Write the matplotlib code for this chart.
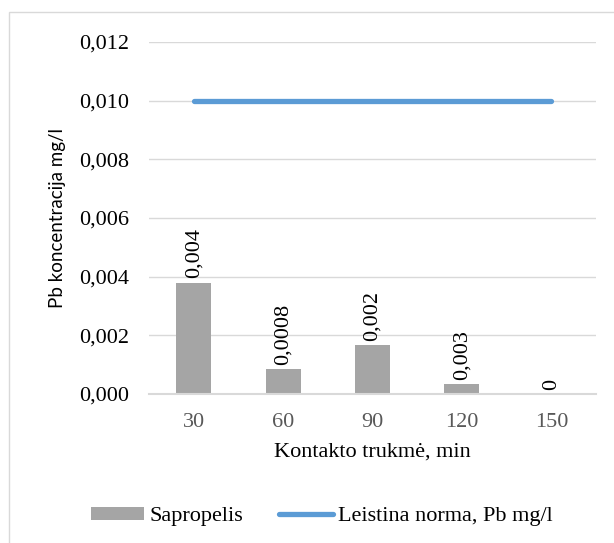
import numpy as np
import matplotlib
matplotlib.use('Agg')
import matplotlib.pyplot as plt
from matplotlib.patches import Rectangle
from matplotlib.ticker import FuncFormatter

# data
minutes = ['30', '60', '90', '120', '150']
sapropelis = [0.0038, 0.00085, 0.00166, 0.00034, 0.0]
bar_labels = ['0,004', '0,0008', '0,002', '0,003', '0']
norma = [0.010, 0.010, 0.010, 0.010, 0.010]

serif = 'Liberation Serif'
bar_color = '#A5A5A5'
line_color = '#5B9BD5'

fig = plt.figure(figsize=(6.14, 5.43), dpi=100)
# light frame round the chart, open at right and bottom like the reference crop
fig.patches.append(Rectangle((9 / 614, -0.1), 1.2, 1.1 - 12 / 543,
                             transform=fig.transFigure, fill=False,
                             edgecolor='#D9D9D9', linewidth=1))
ax = fig.add_axes([149 / 614, 1 - 394 / 543, 447 / 614, 352 / 543])

x = np.arange(len(minutes))
bars = ax.bar(x, sapropelis, width=0.39, color=bar_color, label='Sapropelis', zorder=2)
line, = ax.plot(x, norma, color=line_color, linewidth=3.8, solid_capstyle='round',
                label='Leistina norma, Pb mg/l', zorder=3)

# rotated value labels above the bars
for i, b in enumerate(bars):
    ax.annotate(bar_labels[i], (b.get_x() + b.get_width() / 2, b.get_height()),
                textcoords='offset points', xytext=(0, 3), ha='center', va='bottom',
                rotation=90, fontsize=16, family=serif, color='#000000')

ax.set_xlim(-0.5, len(minutes) - 0.5)
ax.set_ylim(0, 0.012)
ax.set_yticks(np.arange(0, 0.0121, 0.002))
ax.yaxis.set_major_formatter(FuncFormatter(lambda v, p: f'{v:.3f}'.replace('.', ',')))
ax.set_xticks(x)
ax.set_xticklabels(minutes)
ax.grid(axis='y', color='#D9D9D9', linewidth=1, zorder=0)
for s in ['top', 'right', 'left']:
    ax.spines[s].set_visible(False)
ax.spines['bottom'].set_color('#D9D9D9')
ax.spines['bottom'].set_linewidth(1.5)
ax.tick_params(length=0)
ax.tick_params(axis='y', pad=14)
ax.tick_params(axis='x', pad=14)
for lab in ax.get_yticklabels():
    lab.set_family(serif)
    lab.set_fontsize(16)
    lab.set_color('#000000')
for lab in ax.get_xticklabels():
    lab.set_family(serif)
    lab.set_fontsize(16)
    lab.set_color('#595959')

ax.set_xlabel('Kontakto trukmė, min', family=serif, fontsize=16, labelpad=7)
ax.set_ylabel('Pb koncentracija mg/l', family='Lato', fontsize=13.5, labelpad=10)

ax.legend(handles=[bars, line], loc='center', bbox_to_anchor=(0.387, -0.349), ncol=2,
          frameon=False, prop={'family': serif, 'size': 16}, handlelength=2.4,
          handleheight=0.5, handletextpad=0.25, columnspacing=1.6)

fig.savefig('out.png', dpi=100)
